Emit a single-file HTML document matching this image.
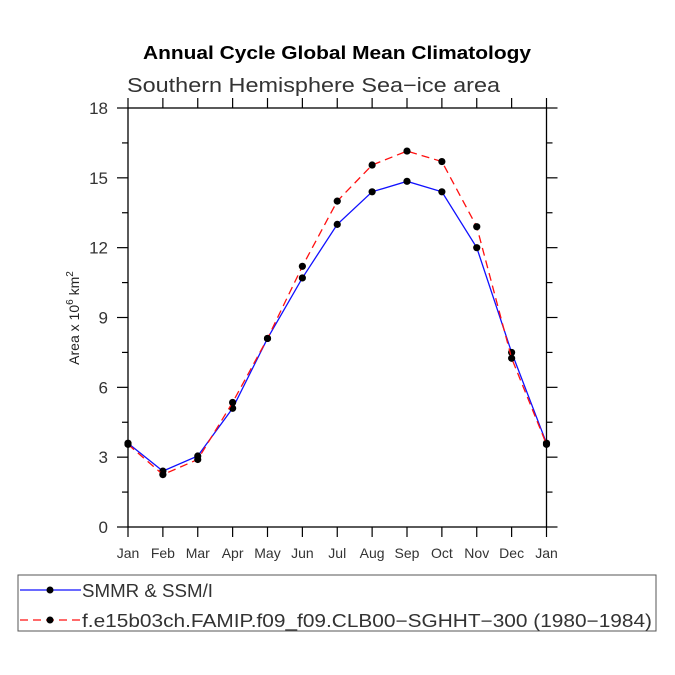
<!DOCTYPE html>
<html><head><meta charset="utf-8"><style>
body{margin:0;background:#fff}
svg{display:block}
text{font-family:"Liberation Sans",sans-serif}
</style></head><body>
<svg id="chart" width="675" height="675">
<text x="143" y="59" font-size="18" font-weight="bold" textLength="388" lengthAdjust="spacingAndGlyphs">Annual Cycle Global Mean Climatology</text>
<text x="127" y="92" font-size="20" fill="#333" textLength="373" lengthAdjust="spacingAndGlyphs">Southern Hemisphere Sea−ice area</text>
<text transform="translate(79,318) rotate(-90)" text-anchor="middle" font-size="14" fill="#222">Area x 10<tspan dy="-6" font-size="10">6</tspan><tspan dy="6"> km</tspan><tspan dy="-6" font-size="10">2</tspan></text>
<g id="axes"></g>
<g id="series"></g>
<rect x="18" y="575" width="638" height="56" fill="none" stroke="#555" stroke-width="1"/>
<g>
<line x1="20" y1="590" x2="81" y2="590" stroke="#1010ff" stroke-width="1.3"/>
<circle cx="50" cy="590" r="3.5" fill="#000"/>
<text x="82" y="597" font-size="18" fill="#333" textLength="131" lengthAdjust="spacingAndGlyphs">SMMR &amp; SSM/I</text>
</g>
<g>
<line x1="20" y1="620" x2="81" y2="620" stroke="#ff1010" stroke-width="1.3" stroke-dasharray="8,5"/>
<circle cx="50" cy="620" r="3.5" fill="#000"/>
<text x="82" y="627" font-size="18" fill="#333" textLength="570" lengthAdjust="spacingAndGlyphs">f.e15b03ch.FAMIP.f09_f09.CLB00−SGHHT−300 (1980−1984)</text>
</g>
</svg>
<script>
const months=["Jan","Feb","Mar","Apr","May","Jun","Jul","Aug","Sep","Oct","Nov","Dec","Jan"];
const obsValues=[3.6,2.4,3.05,5.1,8.1,10.7,13.0,14.4,14.85,14.4,12.0,7.5,3.6];
const modelValues=[3.55,2.25,2.9,5.35,8.1,11.2,14.0,15.55,16.15,15.7,12.9,7.25,3.55];
const yTicks=[0,3,6,9,12,15,18];
const NS="http://www.w3.org/2000/svg";
const X0=128,X1=546.5,Y0=527,Y1=108;
function xs(i){return X0+(X1-X0)*i/(months.length-1);}
function ys(v){return Y0-(Y0-Y1)*v/18;}
function mk(t,a,p){const e=document.createElementNS(NS,t);for(const k in a)e.setAttribute(k,a[k]);p.appendChild(e);return e;}
const ax=document.getElementById('axes');
const frame=mk('rect',{x:X0,y:Y1,width:X1-X0,height:Y0-Y1,fill:'none',stroke:'#000','stroke-width':1.3},ax);


for(let i=0;i<months.length;i++){
  const x=xs(i);
  mk('line',{x1:x,y1:Y0,x2:x,y2:Y0+10,stroke:'#000','stroke-width':1.2},ax);
  mk('line',{x1:x,y1:Y1,x2:x,y2:Y1-10,stroke:'#000','stroke-width':1.2},ax);
  const t=mk('text',{x:x,y:Y0+31,'text-anchor':'middle','font-size':14,fill:'#333'},ax);
  t.textContent=months[i];
  
  
}
for(let v=0;v<=18;v+=1.5){
  const y=ys(v),major=(v%3===0),L=major?11:6;
  mk('line',{x1:X0-L,y1:y,x2:X0,y2:y,stroke:'#000','stroke-width':1.2},ax);
  mk('line',{x1:X1,y1:y,x2:X1+L,y2:y,stroke:'#000','stroke-width':1.2},ax);
}
yTicks.forEach(v=>{
  const t=mk('text',{x:108,y:ys(v)+6,'text-anchor':'end','font-size':17,fill:'#333'},ax);
  t.textContent=v;
  
  
});
const sg=document.getElementById('series');
function draw(vals,color,dash,name){
  const g=mk('g',{},sg);
  
  
  mk('polyline',{points:vals.map((v,i)=>xs(i)+','+ys(v)).join(' '),fill:'none',stroke:color,'stroke-width':1.3,'stroke-dasharray':dash},g);
  vals.forEach((v,i)=>{
    const c=mk('circle',{cx:xs(i),cy:ys(v),r:3.6,fill:'#000'},g);
    
    
  });
}
draw(obsValues,'#1010ff','none','series-obs');
draw(modelValues,'#ff1010','8,5','series-model');
</script>
</body></html>
